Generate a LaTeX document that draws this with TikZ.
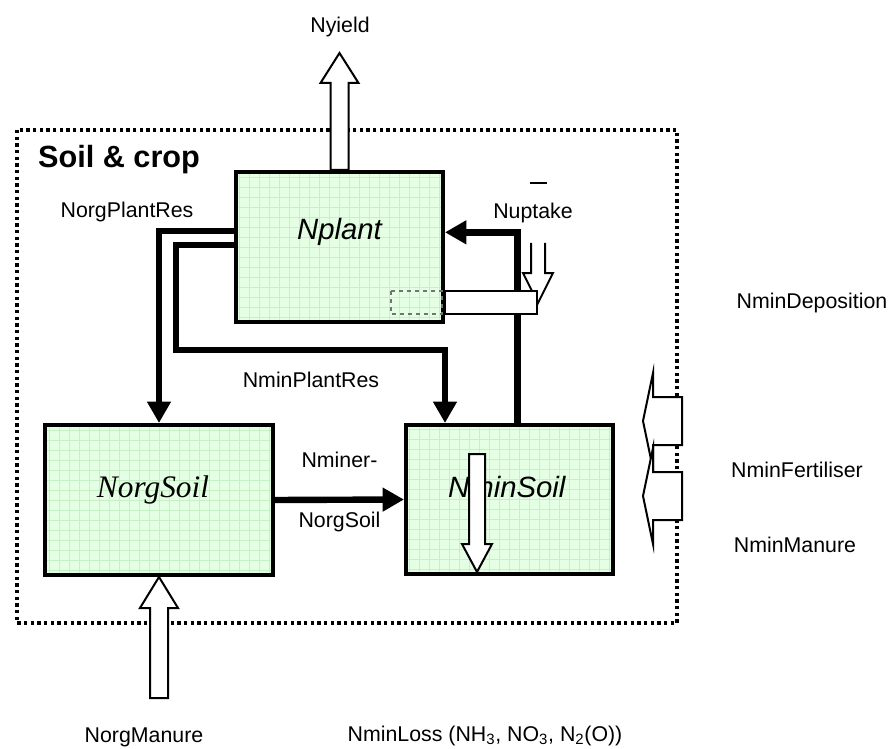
\documentclass[tikz,border=0pt]{standalone}
\usepackage{fontspec}
\setmainfont{Liberation Sans}
\newfontfamily\timesfont{Liberation Serif}
\usepackage{xcolor}
\usepackage{tikz}
\usetikzlibrary{arrows.meta,positioning}

\definecolor{boxgreen}{RGB}{229,255,229}
\definecolor{gridgreen}{RGB}{198,240,198}

\begin{document}
\begin{tikzpicture}[
  x=0.75pt, y=-0.75pt,
  lbl/.style={font=\fontsize{16pt}{19pt}\selectfont, inner sep=0pt},
  box/.style={draw, line width=3pt, fill=boxgreen, inner sep=0pt,
    path picture={\draw[gridgreen, line width=0.3pt, step=7.5pt] (path picture bounding box.south west) grid (path picture bounding box.north east);}},
  boxlbl/.style={font=\fontsize{22pt}{26pt}\selectfont\itshape, inner sep=0pt},
  flow/.style={line width=4.8pt, -{Triangle[length=16pt, width=17pt]}},
  hollow/.style={draw, line width=1.5pt, fill=white, line join=miter},
  frame/.style={line width=2.7pt, dash pattern=on 2.6pt off 2.4pt}
]
\useasboundingbox (0,0) rectangle (894,749);

% system boundary
\draw[frame] (17,130) rectangle (677,623);
\node[font=\fontsize{23pt}{27pt}\selectfont\bfseries, inner sep=0pt] (soiltitle) at (119,160) {Soil \& crop};

% pools
\node[box, minimum width=155.25pt, minimum height=112.5pt] (nplant) at (339.5,247) {};
\node[box, minimum width=171pt, minimum height=112.5pt] (norgsoil) at (159,500) {};
\node[box, minimum width=155.25pt, minimum height=111.75pt] (nminsoil) at (509.5,499.5) {};

\node[boxlbl] (nplanttxt) at ([yshift=11pt]nplant.center) {Nplant};
\node[boxlbl, font={\timesfont\itshape\fontsize{23.5pt}{28pt}\selectfont}] (norgsoiltxt) at ([xshift=-4.5pt, yshift=7.5pt]norgsoil.center) {NorgSoil};
\node[boxlbl] (nminsoiltxt) at ([xshift=-2pt, yshift=9pt]nminsoil.center) {NminSoil};

% internal flows
\coordinate (resbend) at (176,350);
\draw[flow] ([yshift=12pt]nplant.west) -| (norgsoil.north);
\draw[flow] ([yshift=1.5pt]nplant.west) -| (resbend) -| (nplant.east |- nminsoil.north);
\draw[flow] ([xshift=6pt]nminsoil.north) |- ([yshift=11pt]nplant.east);
\draw[flow] (norgsoil.east) -- node[lbl, above=22pt] (minerlbl) {Nminer-}
  node[lbl, below=6.8pt] (minerlbl2) {NorgSoil} (nminsoil.west);

% external flows
\draw[hollow] ([xshift=-6.75pt]nplant.north) -- ++(0,-87) -- ++(-10,0) -- ++(19,-30)
  -- ++(19,30) -- ++(-10,0) -- ++(0,87) -- cycle;
\draw[hollow] (norgsoil.south) -- ++(19,31) -- ++(-10,0) -- ++(0,90) -- ++(-18,0)
  -- ++(0,-90) -- ++(-10,0) -- cycle;

\coordinate (losstip) at (477,572);
\draw[hollow] (losstip) -- ++(15,-28) -- ++(-7,0) -- ++(0,-90) -- ++(-16,0)
  -- ++(0,90) -- ++(-7,0) -- cycle;

\coordinate (deptip) at (538,303);
\draw[hollow] (deptip) ++(-7,-60) -- ++(0,30) -- ++(-8,0) -- (deptip) -- ++(15,-30)
  -- ++(-8,0) -- ++(0,-30);
\draw[hollow] (nplant.east |- 0,291) rectangle (537,314);
\draw[black!55, dashed, line width=1.2pt] (391,291) rectangle (442,314);

\coordinate (fertip) at (643,421);
\coordinate (mantip) at (643,496);
\draw[hollow] (fertip) -- ++(10,-48) -- ++(0,24) -- ++(29,0) -- ++(0,48) -- ++(-29,0)
  -- ++(0,24) -- cycle;
\draw[hollow] (mantip) -- ++(10,-48) -- ++(0,24) -- ++(29,0) -- ++(0,48) -- ++(-29,0)
  -- ++(0,24) -- cycle;

% flow names
\node[lbl] (yieldlbl) at (340,27) {Nyield};
\node[lbl] (plantreslbl) at (127,212) {NorgPlantRes};
\node[lbl] (minreslbl) at (311,380) {NminPlantRes};
\node[lbl] (uptakelbl) at (533,213) {Nuptake};
\node[inner sep=0pt, above=14pt of uptakelbl, xshift=4pt] (uptakebar) {\rule{12.5pt}{1.1pt}};
\node[lbl] (deplbl) at (812,303) {NminDeposition};
\node[lbl] (fertlbl) at (797,470) {NminFertiliser};
\node[lbl] (manlbl) at (795,545) {NminManure};
\node[lbl] (orgmanlbl) at (144,737) {NorgManure};
\node[lbl] (losslbl) at (485,736) {NminLoss (NH\textsubscript{3}, NO\textsubscript{3}, N\textsubscript{2}(O))};
\end{tikzpicture}
\end{document}
